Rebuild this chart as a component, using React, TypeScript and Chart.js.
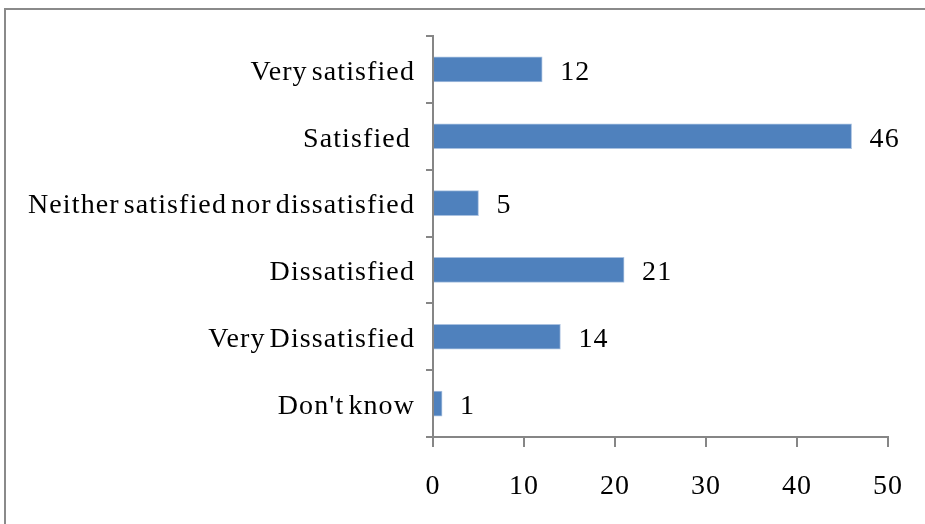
import React, { useEffect, useRef } from 'react';
import { Chart, registerables } from 'chart.js';

Chart.register(...registerables);

const categories = [
  'Very satisfied',
  'Satisfied ',
  'Neither satisfied nor dissatisfied',
  'Dissatisfied',
  'Very Dissatisfied',
  "Don't know",
];
const values = [12, 46, 5, 21, 14, 1];
const xMin = 0;
const xMax = 50;
const xStep = 10;

const FONT_FAMILY = '"Liberation Serif", "Times New Roman", serif';
const FONT_SIZE = 28;
const AXIS_COLOR = '#868686';

const spacingPlugin = {
  id: 'spacing',
  beforeDraw(chart: any) {
    const ctx = chart.ctx as any;
    ctx.letterSpacing = '1.1px';
    ctx.wordSpacing = '-4px';
  },
};

const valueLabelPlugin = {
  id: 'valueLabels',
  afterDatasetsDraw(chart: any) {
    const ctx = chart.ctx;
    const meta = chart.getDatasetMeta(0);
    ctx.save();
    ctx.font = `${FONT_SIZE}px ${FONT_FAMILY}`;
    ctx.fillStyle = '#000';
    ctx.textAlign = 'left';
    ctx.textBaseline = 'middle';
    meta.data.forEach((bar: any, i: number) => {
      ctx.fillText(String(chart.data.datasets[0].data[i]), bar.x + 18, bar.y + 3);
    });
    ctx.restore();
  },
};

export default function App() {
  const canvasRef = useRef<HTMLCanvasElement | null>(null);

  useEffect(() => {
    if (!canvasRef.current) return;
    const chart = new Chart(canvasRef.current, {
      type: 'bar',
      data: {
        labels: categories,
        datasets: [
          {
            data: values,
            backgroundColor: '#4F81BD',
            borderColor: '#A9C1E0',
            borderWidth: 1,
            barThickness: 25,
          },
        ],
      },
      options: {
        indexAxis: 'y',
        animation: false,
        responsive: false,
        maintainAspectRatio: false,
        layout: { padding: { top: 36, right: 37, left: 0, bottom: 0 } },
        plugins: {
          legend: { display: false },
          tooltip: { enabled: false },
          title: { display: false },
        },
        scales: {
          x: {
            min: xMin,
            max: xMax,
            afterFit(scale: any) {
              scale.height = 87;
            },
            ticks: {
              stepSize: xStep,
              color: '#000',
              padding: 23,
              maxRotation: 0,
              font: { family: FONT_FAMILY, size: FONT_SIZE },
            },
            grid: {
              drawOnChartArea: false,
              drawTicks: true,
              tickLength: 10,
              color: AXIS_COLOR,
              lineWidth: 2,
            },
            border: { display: true, color: AXIS_COLOR, width: 2 },
          },
          y: {
            afterFit(scale: any) {
              scale.width = 433;
            },
            ticks: {
              color: '#000',
              padding: 11,
              labelOffset: 3,
              font: { family: FONT_FAMILY, size: FONT_SIZE },
            },
            grid: {
              offset: true,
              drawOnChartArea: false,
              drawTicks: true,
              tickLength: 7,
              color: AXIS_COLOR,
              lineWidth: 2,
            },
            border: { display: true, color: AXIS_COLOR, width: 2 },
          },
        },
      },
      plugins: [spacingPlugin, valueLabelPlugin],
    });
    return () => chart.destroy();
  }, []);

  return (
    <div style={{ position: 'fixed', left: 0, top: 0, width: 925, height: 524, background: '#fff', overflow: 'hidden' }}>
      <div
        style={{
          position: 'absolute',
          left: 4,
          top: 8,
          width: 1000,
          height: 600,
          borderTop: '2px solid #8a8a8a',
          borderLeft: '2px solid #8a8a8a',
        }}
      />
      <canvas ref={canvasRef} width={925} height={524} style={{ position: 'absolute', left: 0, top: 0, width: 925, height: 524 }} />
    </div>
  );
}
